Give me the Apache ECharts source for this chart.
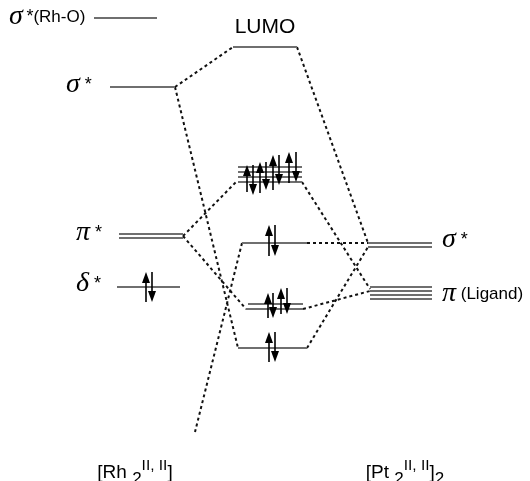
<!DOCTYPE html>
<html>
<head>
<meta charset="utf-8">
<script src="https://cdn.jsdelivr.net/npm/echarts@6/dist/echarts.min.js"></script>
<style>
  html, body { margin: 0; padding: 0; background: #fff; }
  #chart { width: 530px; height: 481px; }
</style>
</head>
<body>
<div id="chart"></div>
<script>
// 에너지 준위: [x 시작, x 끝, 에너지]
const levels = [
  [94, 157, 463],                    // σ*(Rh-O)
  [110, 175, 394],                   // σ* (Rh2)
  [119, 183, 247], [119, 183, 243],  // π* (Rh2)
  [117, 180, 194],                   // δ* (Rh2)
  [233, 297, 434],                   // LUMO
  [238, 302, 314], [238, 302, 309], [238, 302, 304], [238, 302, 299],
  [242, 307, 238],
  [248, 303, 177], [246, 303, 172],
  [238, 307, 133],
  [368, 432, 238], [368, 432, 234],  // σ* (Pt2)
  [370, 432, 194], [370, 432, 190], [370, 432, 186], [370, 432, 182] // π (Ligand)
];

// 점선 연결: [x1, e1, x2, e2]
const connectors = [
  [175, 394, 233, 434],
  [175, 394, 238, 133],
  [183, 245, 237, 300],
  [183, 245, 246, 172],
  [242, 238, 195, 49],
  [307, 238, 368, 238],
  [297, 434, 368, 238],
  [302, 299, 370, 192],
  [303, 172, 370, 190],
  [307, 133, 368, 234]
];

// 전자 화살표: [x, 시작 에너지, 끝 에너지]
const electrons = [
  [146, 179, 209], [152, 209, 179],
  [269, 225, 256], [275, 256, 225],
  [269, 119, 149], [275, 149, 119],
  [268, 163, 188], [273, 188, 163],
  [281, 167, 193], [287, 193, 167],
  [247, 289, 316], [253, 316, 286],
  [260, 288, 319], [266, 319, 291],
  [273, 291, 326], [279, 326, 296],
  [289, 298, 329], [296, 329, 299]
];

// 라벨: [x, 에너지, 텍스트, 정렬]
const labels = [
  [9, 464, "{g|σ}{s|\u2009*}{t|(Rh-O)}", "left"],
  [66, 396, "{g|σ}{s| *}", "left"],
  [265, 454, "{L|LUMO}", "center"],
  [76, 248, "{g|π}{s| *}", "left"],
  [76, 197, "{g|δ}{s| *}", "left"],
  [442, 241, "{g|σ}{s| *}", "left"],
  [442, 187, "{g|π}{t| (Ligand)}", "left"],
  [135, 8, "{b|[Rh }{sub|2}{sup|II, II}{b|]}", "center"],
  [405, 8, "{b|[Pt }{sub|2}{sup|II, II}{b|]}{sub|2}", "center"]
];

const rich = {
  g: { fontFamily: "Liberation Serif", fontStyle: "italic", fontSize: 28, lineHeight: 30, verticalAlign: "middle", fill: "#000" },
  s: { fontFamily: "Liberation Sans", fontSize: 18, lineHeight: 30, verticalAlign: "middle", fill: "#000" },
  t: { fontFamily: "Liberation Sans", fontSize: 17, lineHeight: 30, verticalAlign: "middle", fill: "#000" },
  L: { fontFamily: "Liberation Sans", fontSize: 21, lineHeight: 26, verticalAlign: "middle", fill: "#000" },
  b: { fontFamily: "Liberation Sans", fontSize: 19, lineHeight: 30, verticalAlign: "middle", fill: "#000" },
  sub: { fontFamily: "Liberation Sans", fontSize: 17, lineHeight: 21, verticalAlign: "bottom", fill: "#000" },
  sup: { fontFamily: "Liberation Sans", fontSize: 15.5, lineHeight: 16, verticalAlign: "top", fill: "#000" }
};

const chart = echarts.init(document.getElementById("chart"));

chart.setOption({
  animation: false,
  backgroundColor: "#fff",
  grid: { left: 0, right: 0, top: 0, bottom: 0 },
  xAxis: { type: "value", min: 0, max: 530, show: false },
  yAxis: { type: "value", min: 0, max: 481, show: false },
  series: [
    {
      type: "custom",
      silent: true,
      data: connectors,
      renderItem: (params, api) => {
        const a = api.coord([api.value(0), api.value(1)]);
        const b = api.coord([api.value(2), api.value(3)]);
        return {
          type: "line",
          shape: { x1: a[0], y1: a[1], x2: b[0], y2: b[1] },
          style: { stroke: "#111", lineWidth: 2, lineDash: [3, 3] }
        };
      }
    },
    {
      type: "custom",
      silent: true,
      data: levels,
      renderItem: (params, api) => {
        const a = api.coord([api.value(0), api.value(2)]);
        const b = api.coord([api.value(1), api.value(2)]);
        return {
          type: "line",
          shape: { x1: a[0], y1: a[1], x2: b[0], y2: b[1] },
          style: { stroke: "#6f6f6f", lineWidth: 2 }
        };
      }
    },
    {
      type: "custom",
      silent: true,
      data: electrons,
      renderItem: (params, api) => {
        const a = api.coord([api.value(0), api.value(1)]);
        const b = api.coord([api.value(0), api.value(2)]);
        const dir = a[1] > b[1] ? 1 : -1; // 위쪽 화살표면 1
        const headLen = 11, headW = 4;
        return {
          type: "group",
          children: [
            {
              type: "line",
              shape: { x1: a[0], y1: a[1], x2: b[0], y2: b[1] + dir * headLen },
              style: { stroke: "#000", lineWidth: 1.6 }
            },
            {
              type: "polygon",
              shape: {
                points: [
                  [b[0], b[1]],
                  [b[0] - headW, b[1] + dir * headLen],
                  [b[0] + headW, b[1] + dir * headLen]
                ]
              },
              style: { fill: "#000" }
            }
          ]
        };
      }
    },
    {
      type: "custom",
      silent: true,
      data: labels.map((l) => [l[0], l[1]]),
      renderItem: (params, api) => {
        const p = api.coord([api.value(0), api.value(1)]);
        const item = labels[params.dataIndex];
        return {
          type: "text",
          x: p[0],
          y: p[1],
          style: {
            text: item[2],
            rich: rich,
            align: item[3],
            verticalAlign: "middle"
          }
        };
      }
    }
  ]
});
</script>
</body>
</html>
